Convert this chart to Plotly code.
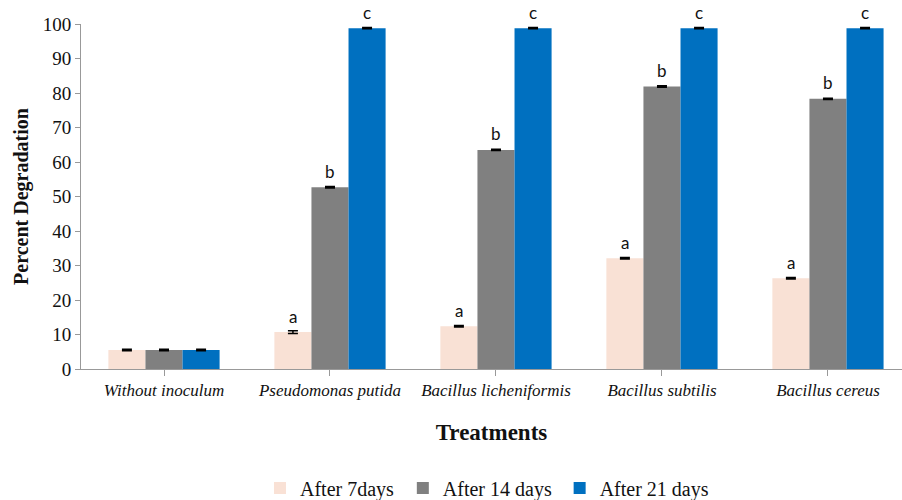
import plotly.graph_objects as go

treatments = ["Without inoculum", "Pseudomonas putida", "Bacillus licheniformis",
              "Bacillus subtilis", "Bacillus cereus"]
series_names = ["After 7days", "After 14 days", "After 21 days"]
day7 = [5.5, 10.7, 12.4, 32.1, 26.3]
day14 = [5.5, 52.7, 63.5, 81.9, 78.3]
day21 = [5.5, 98.8, 98.8, 98.8, 98.8]
err7 = [0.2, 0.4, 0.2, 0.2, 0.2]
err14 = [0.2, 0.2, 0.2, 0.2, 0.2]
err21 = [0.2, 0.2, 0.2, 0.2, 0.2]
letters7 = ["", "a", "a", "a", "a"]
letters14 = ["", "b", "b", "b", "b"]
letters21 = ["", "c", "c", "c", "c"]
y_ticks = [0, 10, 20, 30, 40, 50, 60, 70, 80, 90, 100]

colors = ["#F9E1D5", "#808080", "#0070C0"]
values = [day7, day14, day21]
errors = [err7, err14, err21]
letters = [letters7, letters14, letters21]

SERIF = "Liberation Serif, Times New Roman, serif"
legend_ids = ["legend", "legend2", "legend3"]
legend_x = [0.218, 0.392, 0.583]

fig = go.Figure()
for name, vals, errs, col, lg in zip(series_names, values, errors, colors, legend_ids):
    fig.add_trace(go.Bar(
        name=name, x=list(range(len(treatments))), y=vals, marker_color=col,
        marker_line_width=0, legend=lg, showlegend=True,
        error_y=dict(type="data", array=errs, color="black", thickness=1.5, width=5),
    ))

# significance letters above each bar
bar_w = (1 - 0.33) / 3
for i, (vals, labs) in enumerate(zip(values, letters)):
    for j, (v, lab) in enumerate(zip(vals, labs)):
        if not lab:
            continue
        fig.add_annotation(x=j + (i - 1) * bar_w, y=v, text=lab, showarrow=False,
                           xref="x", yref="y", yanchor="middle", yshift=16,
                           font=dict(family="Lato, Open Sans, sans-serif", size=17, color="#111"))

legend_style = dict(orientation="h", xanchor="left", y=-0.345, yanchor="middle",
                    font=dict(family=SERIF, size=20, color="#111"), itemwidth=30,
                    bgcolor="rgba(0,0,0,0)")
fig.update_layout(
    width=902, height=500,
    showlegend=True,
    margin=dict(l=81, r=0, t=24, b=131, autoexpand=False),
    plot_bgcolor="white", paper_bgcolor="white",
    barmode="group", bargap=0.33, bargroupgap=0,
    font=dict(family=SERIF, color="black"),
    legend=dict(x=legend_x[0], **legend_style),
    legend2=dict(x=legend_x[1], **legend_style),
    legend3=dict(x=legend_x[2], **legend_style),
    xaxis=dict(
        tickmode="array", tickvals=list(range(len(treatments))), ticktext=treatments,
        range=[-0.5, 4.446], showline=True, linecolor="#999", linewidth=1,
        ticks="outside", ticklen=6, tickcolor="#999",
        tickfont=dict(family=SERIF, size=17, style="italic", color="#111"),
        title=dict(text="<b>Treatments</b>", font=dict(family=SERIF, size=23, color="#111"),
                   standoff=24),
        showgrid=False, zeroline=False,
    ),
    yaxis=dict(
        range=[0, 100], tickvals=y_ticks, showline=True, linecolor="#999", linewidth=1,
        ticks="outside", ticklen=5, tickcolor="#999",
        tickfont=dict(family=SERIF, size=19, color="#111"),
        title=dict(text="<b>Percent Degradation</b>", font=dict(family=SERIF, size=20, color="#111"),
                   standoff=8),
        showgrid=False, zeroline=False,
    ),
)
fig.update_xaxes(tickson="boundaries")

fig.write_html("out.html")
